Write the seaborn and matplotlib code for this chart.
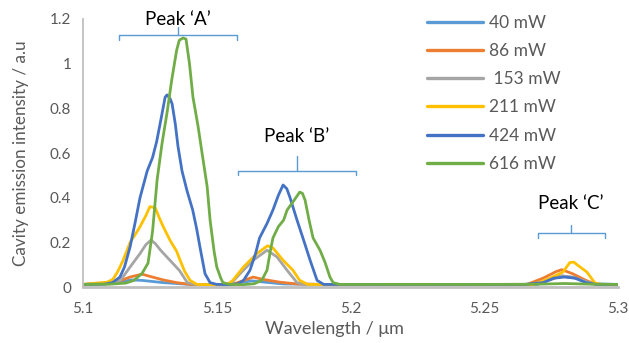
import matplotlib
matplotlib.use("Agg")
import matplotlib.pyplot as plt
from matplotlib.ticker import MultipleLocator, FuncFormatter
import numpy as np
import pandas as pd
import seaborn as sns

# --- data (wavelength in um, intensity in a.u.) ---
labels = ["40 mW", "86 mW", " 153 mW", "211 mW", "424 mW", "616 mW"]
colors = ["#5B9BD5", "#ED7D31", "#A5A5A5", "#FFC000", "#4472C4", "#70AD47"]

wl_40 = [5.100, 5.112, 5.118, 5.122, 5.130, 5.140, 5.155, 5.163, 5.168, 5.175,
         5.190, 5.270, 5.275, 5.279, 5.284, 5.290, 5.300]
in_40 = [0.012, 0.018, 0.032, 0.030, 0.020, 0.012, 0.012, 0.028, 0.022, 0.014,
         0.012, 0.012, 0.040, 0.050, 0.040, 0.015, 0.012]

wl_86 = [5.100, 5.112, 5.1176, 5.122, 5.125, 5.130, 5.135, 5.140, 5.156, 5.1636,
         5.167, 5.1736, 5.180, 5.190, 5.266, 5.272, 5.277, 5.279, 5.283, 5.288,
         5.292, 5.300]
in_86 = [0.012, 0.020, 0.045, 0.058, 0.048, 0.032, 0.020, 0.012, 0.012, 0.045,
         0.035, 0.022, 0.014, 0.012, 0.012, 0.040, 0.070, 0.078, 0.060, 0.030,
         0.012, 0.012]

wl_153 = [5.100, 5.110, 5.114, 5.1176, 5.1213, 5.1235, 5.1254, 5.127, 5.129,
          5.1325, 5.136, 5.139, 5.142, 5.155, 5.1587, 5.1636, 5.1688, 5.1725,
          5.1763, 5.180, 5.183, 5.268, 5.274, 5.279, 5.283, 5.288, 5.292, 5.300]
in_153 = [0.012, 0.015, 0.030, 0.090, 0.150, 0.190, 0.210, 0.195, 0.165,
          0.120, 0.075, 0.020, 0.012, 0.012, 0.060, 0.120, 0.165, 0.135,
          0.075, 0.020, 0.012, 0.012, 0.030, 0.050, 0.045, 0.025, 0.012, 0.012]

wl_211 = [5.100, 5.105, 5.109, 5.1112, 5.113, 5.115, 5.1176, 5.1195, 5.1213,
          5.1235, 5.125, 5.127, 5.1285, 5.130, 5.1325, 5.135, 5.1363, 5.138,
          5.140, 5.1426, 5.150, 5.154, 5.156, 5.160, 5.165, 5.169, 5.171,
          5.1748, 5.1785, 5.181, 5.184, 5.220, 5.268, 5.270, 5.2746, 5.2794,
          5.282, 5.2835, 5.2847, 5.2884, 5.2914, 5.294, 5.300]
in_211 = [0.012, 0.018, 0.022, 0.035, 0.070, 0.120, 0.200, 0.235, 0.270,
          0.320, 0.360, 0.355, 0.310, 0.270, 0.210, 0.160, 0.120, 0.070,
          0.030, 0.012, 0.010, 0.012, 0.030, 0.090, 0.150, 0.185, 0.175,
          0.120, 0.075, 0.030, 0.012, 0.010, 0.011, 0.018, 0.040, 0.067,
          0.110, 0.112, 0.100, 0.067, 0.018, 0.012, 0.012]

wl_424 = [5.100, 5.108, 5.111, 5.1138, 5.1155, 5.1176, 5.1195, 5.1213, 5.124,
          5.126, 5.1275, 5.1288, 5.1307, 5.1314, 5.1325, 5.1333, 5.1345, 5.1355,
          5.137, 5.1389, 5.141, 5.1425, 5.1437, 5.1456, 5.1475, 5.150, 5.155,
          5.158, 5.160, 5.1624, 5.1645, 5.166, 5.1688, 5.171, 5.173, 5.1748,
          5.1762, 5.1774, 5.180, 5.1822, 5.1849, 5.1875, 5.190, 5.220, 5.265,
          5.272, 5.276, 5.280, 5.284, 5.288, 5.292, 5.300]
in_424 = [0.012, 0.013, 0.020, 0.045, 0.090, 0.180, 0.290, 0.400, 0.520,
          0.580, 0.650, 0.730, 0.850, 0.860, 0.845, 0.820, 0.730, 0.630,
          0.520, 0.430, 0.345, 0.260, 0.180, 0.060, 0.020, 0.012, 0.011,
          0.015, 0.030, 0.075, 0.150, 0.220, 0.285, 0.345, 0.410, 0.457,
          0.440, 0.400, 0.300, 0.220, 0.120, 0.030, 0.012, 0.011, 0.012,
          0.020, 0.040, 0.045, 0.040, 0.020, 0.012, 0.012]

wl_616 = [5.100, 5.110, 5.116, 5.119, 5.122, 5.1243, 5.126, 5.1277, 5.1295,
          5.1314, 5.1332, 5.135, 5.136, 5.1374, 5.1385, 5.1398, 5.1411, 5.143,
          5.1445, 5.1464, 5.1475, 5.149, 5.150, 5.1515, 5.1523, 5.155, 5.160,
          5.164, 5.1668, 5.1688, 5.170, 5.171, 5.173, 5.175, 5.1763, 5.179,
          5.181, 5.182, 5.183, 5.1845, 5.186, 5.1886, 5.1905, 5.1923, 5.1935,
          5.196, 5.220, 5.250, 5.270, 5.280, 5.290, 5.300]
in_616 = [0.012, 0.013, 0.018, 0.030, 0.060, 0.107, 0.250, 0.480, 0.640,
          0.780, 0.930, 1.060, 1.105, 1.115, 1.110, 1.000, 0.850, 0.720,
          0.600, 0.450, 0.300, 0.160, 0.090, 0.040, 0.020, 0.012, 0.011,
          0.015, 0.030, 0.076, 0.160, 0.220, 0.270, 0.300, 0.345, 0.390,
          0.425, 0.420, 0.390, 0.300, 0.220, 0.165, 0.110, 0.045, 0.020,
          0.012, 0.012, 0.012, 0.013, 0.016, 0.013, 0.012]

series_wl = [wl_40, wl_86, wl_153, wl_211, wl_424, wl_616]
series_in = [in_40, in_86, in_153, in_211, in_424, in_616]

frames = []
for lab, wl, inten in zip(labels, series_wl, series_in):
    frames.append(pd.DataFrame({"wavelength": wl, "intensity": inten, "power": lab}))
df = pd.concat(frames, ignore_index=True)

sns.set_theme(style="white")
plt.rcParams["font.family"] = ["Lato", "DejaVu Sans"]

grey = "#595959"
axis_grey = "#BFBFBF"

fig = plt.figure(figsize=(6.29, 3.43), dpi=100)
ax = fig.add_axes([0.132, 0.163, 0.8505, 0.7817])

sns.lineplot(data=df, x="wavelength", y="intensity", hue="power",
             hue_order=labels, palette=colors, sort=False,
             linewidth=2.0, ax=ax, legend=True)
for line in ax.get_lines():
    line.set_solid_joinstyle("round")

ax.set_xlim(5.1, 5.3)
ax.set_ylim(0, 1.2)
ax.xaxis.set_major_locator(MultipleLocator(0.05))
ax.xaxis.set_minor_locator(MultipleLocator(0.01))
ax.yaxis.set_major_locator(MultipleLocator(0.2))
ax.yaxis.set_minor_locator(MultipleLocator(0.04))
ax.xaxis.set_major_formatter(FuncFormatter(lambda v, p: f"{v:g}"))
ax.yaxis.set_major_formatter(FuncFormatter(lambda v, p: f"{round(v, 2):g}"))

for s in ["top", "right"]:
    ax.spines[s].set_visible(False)
ax.spines["left"].set_color(axis_grey)
ax.spines["left"].set_linewidth(1.3)
ax.spines["bottom"].set_color(axis_grey)
ax.spines["bottom"].set_linewidth(2.0)

ax.tick_params(axis="y", which="both", direction="inout", length=7,
               width=1, color=axis_grey, labelcolor=grey, labelsize=11, pad=5)
ax.tick_params(axis="x", which="both", direction="out", length=5,
               width=1, color=axis_grey, labelcolor=grey, labelsize=11, pad=6)

ax.set_xlabel("Wavelength / μm", color=grey, fontsize=13)
ax.xaxis.set_label_coords(0.47, -0.125)
ax.set_ylabel("Cavity emission intensity / a.u", color=grey, fontsize=12.3, labelpad=15)

# peak brackets
bracket_color = "#5B9BD5"


def bracket(x0, x1, y, drop, rise, text, ty):
    xc = (x0 + x1) / 2
    ax.plot([x0, x0, x1, x1], [y - drop, y, y, y - drop], color=bracket_color,
            lw=1, clip_on=False, solid_joinstyle="round")
    ax.plot([xc, xc], [y, y + rise], color=bracket_color, lw=1, clip_on=False)
    ax.text(xc, ty, text, ha="center", va="center", fontsize=13.5,
            color="black", clip_on=False)


bracket(5.1135, 5.1576, 1.128, 0.022, 0.036, "Peak \u2018A\u2019", 1.196)
bracket(5.158, 5.202, 0.521, 0.02, 0.067, "Peak \u2018B\u2019", 0.672)
bracket(5.270, 5.295, 0.240, 0.02, 0.04, "Peak \u2018C\u2019", 0.376)

leg = ax.legend(loc="upper left", bbox_to_anchor=(427 / 629, 1 - 15 / 343),
                bbox_transform=fig.transFigure, frameon=False, fontsize=12.5,
                handlelength=3.2, handletextpad=0.35, labelspacing=0.7,
                borderpad=0, borderaxespad=0)
for t in leg.get_texts():
    t.set_color(grey)
for line in leg.get_lines():
    line.set_linewidth(2.4)

fig.savefig("out.png", dpi=100)
